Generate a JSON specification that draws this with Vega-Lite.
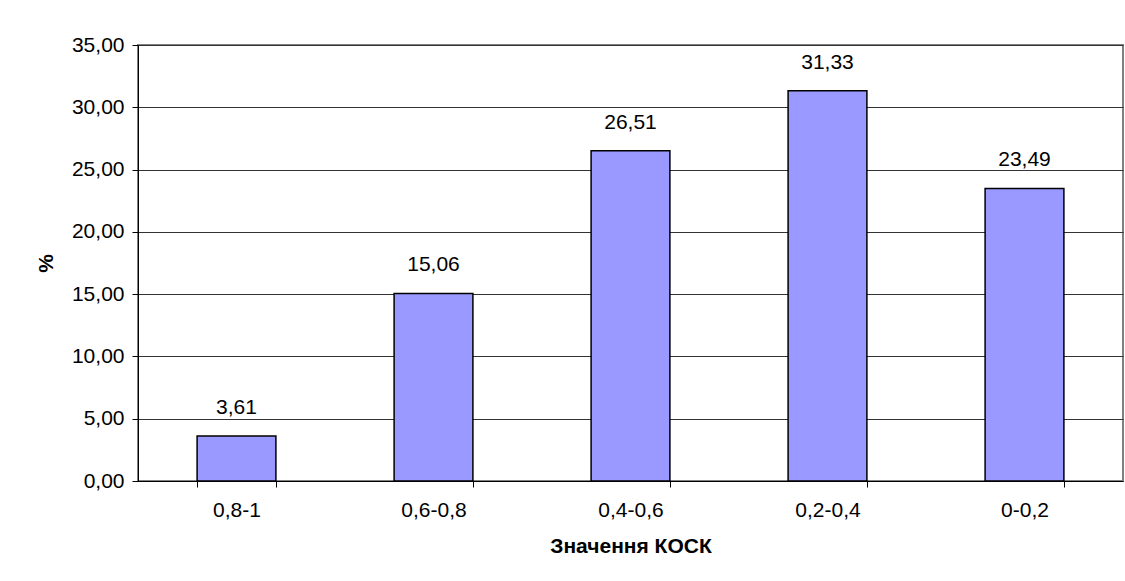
{
  "$schema": "https://vega.github.io/schema/vega-lite/v6.json",
  "autosize": {"type": "none"},
  "width": 985,
  "height": 436,
  "padding": {"left": 138, "top": 45, "right": 2, "bottom": 100},
  "background": "white",
  "config": {
    "locale": {"number": {"decimal": ",", "thousands": "\u00a0", "grouping": [3], "currency": ["", ""]}},
    "font": "Liberation Sans",
    "view": {"stroke": "#808080", "strokeWidth": 2},
    "axis": {"labelFont": "Liberation Sans", "titleFont": "Liberation Sans", "labelColor": "#000", "titleColor": "#000"}
  },
  "data": {"values": [
    {"k": "0,8-1", "v": 3.61},
    {"k": "0,6-0,8", "v": 15.06},
    {"k": "0,4-0,6", "v": 26.51},
    {"k": "0,2-0,4", "v": 31.33},
    {"k": "0-0,2", "v": 23.49}
  ]},
  "encoding": {
    "x": {
      "field": "k", "type": "nominal", "sort": null,
      "scale": {"paddingInner": 0.6, "paddingOuter": 0.3},
      "axis": {
        "title": "Значення КОСК", "titleFontSize": 21, "titleFontWeight": "bold", "titlePadding": 15,
        "labelAngle": 0, "labelFontSize": 21, "labelPadding": 12,
        "tickBand": "extent", "tickSize": 6, "tickColor": "#000", "domainColor": "#000", "domainWidth": 1
      }
    },
    "y": {
      "field": "v", "type": "quantitative",
      "scale": {"domain": [0, 35], "nice": false},
      "axis": {
        "title": "%", "titleFontSize": 21, "titleFontWeight": "bold", "titlePadding": 15,
        "values": [0, 5, 10, 15, 20, 25, 30, 35], "format": ".2f",
        "labelFontSize": 21, "labelPadding": 8, "tickSize": 6, "tickColor": "#000",
        "domainColor": "#000", "grid": true, "gridColor": "#333", "gridWidth": 1
      }
    }
  },
  "layer": [
    {"mark": {"type": "bar", "fill": "#9999FF", "stroke": "#000", "strokeWidth": 1.5}},
    {"mark": {"type": "text", "fontSize": 21, "baseline": "middle", "dy": -28, "color": "#000"},
     "encoding": {"text": {"field": "v", "type": "quantitative", "format": ".2f"}}}
  ]
}
